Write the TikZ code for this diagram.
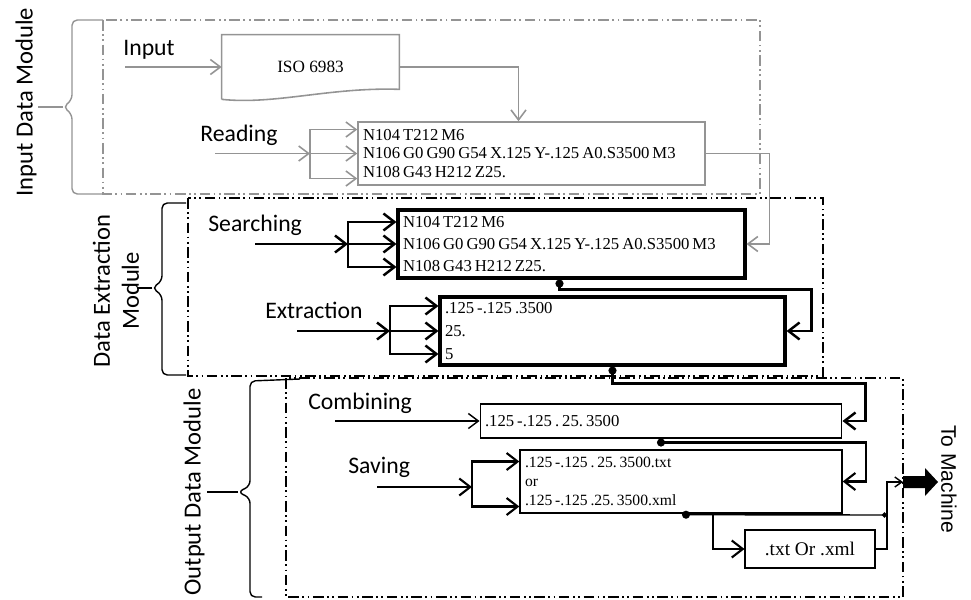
\documentclass[tikz,border=0pt]{standalone}
\usepackage{fontspec}
\setmainfont{Liberation Serif}
\newfontfamily\lblfont{Carlito}
\newfontfamily\arialfont{Liberation Sans}
\usepackage{tikz}
\usetikzlibrary{arrows.meta,calc,positioning}
\definecolor{greyln}{HTML}{949494}
\newcommand{\tightsp}{\spaceskip=0.18em\xspaceskip=0.18em\relax}

\begin{document}
\begin{tikzpicture}[x=0.02cm,y=-0.02cm, every node/.style={inner sep=0pt},
  lbl/.style={font=\lblfont\fontsize{13.5}{16}\selectfont,anchor=west},
  modlbl/.style={font=\lblfont\fontsize{14}{16.5}\selectfont,align=center,rotate=90},
  box/.style={draw=#1,inner xsep=0.1cm,inner ysep=0pt,align=left},
  code/.style={font=\fontsize{9.5}{#1}\selectfont},
  gln/.style={draw=greyln,line width=0.9pt},
  garr/.style={gln,-{Straight Barb[length=2mm,width=3mm]}},
  barr/.style={draw=black,line width=1.4pt,-{Straight Barb[length=2.2mm,width=3.4mm]}},
  oarr/.style={draw=black,line width=0.8pt,-{Straight Barb[length=2mm,width=3mm]}},
  dotarr/.style={{Circle[length=1.6mm]}-{Straight Barb[length=2.2mm,width=3.4mm]}},
  moddash/.style={draw=#1,line width=0.6pt,dash pattern=on 6pt off 2pt on 1pt off 2pt on 1pt off 2pt},
  brace/.style={draw=#1,line width=0.8pt,rounded corners=3pt}]
  \useasboundingbox (0,0) rectangle (971,599);

  % input data module
  \draw[moddash=greyln] (103,20) rectangle (760,194);
  \draw[brace=greyln] (103,20) -- (72,20) -- (72,100) -- (63,107) -- (72,114) -- (72,194) -- (103,194);
  \draw[gln] (63,107) -- (38,107);
  \node[modlbl] (inmod) at (26,102) {Input Data Module};

  \node[lbl] (inlbl) at (123,50) {Input};
  \node[minimum width=3.54cm,minimum height=1.28cm,font=\fontsize{9.8}{11}\selectfont] (iso) at (310.5,67) {ISO 6983};
  \draw[gln] (iso.south west) -- (iso.north west) -- (iso.north east) -- ($(iso.south east)+(0,-10)$)
    .. controls (330,87) and (275,105) .. (iso.south west);
  \coordinate (isoin) at (125,67);
  \draw[garr] (isoin) -- (iso.west);

  \node[lbl] (rdlbl) at (200,135) {Reading};
  \node[box=greyln,line width=0.9pt,text width=6.74cm,minimum height=1.26cm,code=10.4] (read) at (531.5,153.5)
    {\tightsp N104 T212 M6\\N106 G0 G90 G54 X.125 Y-.125 A0.S3500 M3\\N108 G43 H212 Z25.};
  \draw[garr] (iso.east) -| ($(read.north)+(-13,0)$);
  \coordinate (rdin) at (215,153.5);
  \coordinate (rdsplit) at (310,153.5);
  \draw[garr] (rdin) -- (rdsplit);
  \draw[garr] (rdsplit) -- (read.west);
  \draw[garr] (rdsplit) |- ($(read.west)+(0,-24)$);
  \draw[garr] (rdsplit) |- ($(read.west)+(0,25)$);

  % data extraction module
  \draw[moddash=black] (188,198) rectangle (823,376);
  \draw[brace=black] (186,203) -- (162,203) -- (162,281) -- (152,288) -- (162,295) -- (162,375) -- (186,375);
  \draw[black,line width=0.8pt] (152,288) -- (137,288);
  \node[modlbl] (exmod) at (116,291) {Data Extraction\\Module};

  \node[lbl] (srlbl) at (208,225) {Searching};
  \node[box=black,line width=1.8pt,text width=6.74cm,minimum height=1.36cm,code=12.5] (search) at (571.5,244)
    {\tightsp N104 T212 M6\\N106 G0 G90 G54 X.125 Y-.125 A0.S3500 M3\\N108 G43 H212 Z25.};
  \draw[garr] (read.east) -| ($(search.east)+(23,0)$) -- (search.east);
  \coordinate (srin) at (255,244);
  \coordinate (srsplit) at (348,244);
  \draw[barr] (srin) -- (srsplit);
  \draw[barr] (srsplit) -- (search.west);
  \draw[barr] (srsplit) |- ($(search.west)+(0,-22)$);
  \draw[barr] (srsplit) |- ($(search.west)+(0,23)$);

  \node[lbl] (exlbl) at (265,310) {Extraction};
  \node[box=black,line width=1.8pt,text width=6.7cm,minimum height=1.36cm,code=13.2] (extract) at (612.5,331)
    {\tightsp .125 -.125 .3500\\25.\\5};
  \draw[barr,dotarr] ($(search.south)+(-12,0)$) -- ++(0,10) -| ($(extract.east)+(25,0)$) -- (extract.east);
  \coordinate (exin) at (297,331);
  \coordinate (exsplit) at (390,331);
  \draw[barr] (exin) -- (exsplit);
  \draw[barr] (exsplit) -- (extract.west);
  \draw[barr] (exsplit) |- ($(extract.west)+(0,-25)$);
  \draw[barr] (exsplit) |- ($(extract.west)+(0,23)$);

  % output data module
  \draw[moddash=black] (286,378) rectangle (903,597);
  \draw[brace=black] (300,379) -- (250,381) -- (250,486) -- (238,492) -- (250,498) -- (250,597) -- (262,597);
  \draw[black,line width=0.8pt] (238,492) -- (207,492);
  \node[modlbl] (outmod) at (194,492) {Output Data Module};

  \node[lbl] (cblbl) at (308,403) {Combining};
  \node[box=black,line width=0.6pt,text width=7.04cm,minimum height=0.68cm,code=11] (combine) at (661,421)
    {\tightsp .125 -.125 . 25. 3500};
  \coordinate (cbin) at (335,421);
  \draw[oarr] (cbin) -- (combine.west);
  \draw[barr,dotarr] (extract.south) -- ++(0,17) -| ($(combine.east)+(23,0)$) -- (combine.east);

  \node[lbl] (svlbl) at (348,467) {Saving};
  \node[box=black,line width=0.8pt,text width=6.24cm,minimum height=1.26cm,font=\fontsize{8.9}{10.8}\selectfont] (save) at (681,481.5)
    {\tightsp .125 -.125 . 25. 3500.txt\\or\\.125 -.125 .25. 3500.xml};
  \draw[barr,dotarr,line width=1.2pt] (combine.south) -- ++(0,4) -| ($(save.east)+(23,0)$) -- (save.east);
  \coordinate (svin) at (377,487);
  \coordinate (svsplit) at (472,487);
  \draw[barr,line width=1.2pt] (svin) -- (svsplit);
  \draw[barr,line width=1.2pt] (svsplit) |- ($(save.west)+(0,-20)$);
  \draw[barr,line width=1.2pt] (svsplit) |- ($(save.west)+(0,25)$);

  \node[draw=black,line width=0.6pt,minimum width=2.6cm,minimum height=0.76cm,font=\fontsize{11}{13}\selectfont] (txt) at (810,549) {.txt Or .xml};
  \coordinate (jn) at (887,482);
  \coordinate (mach) at (903,482);
  \draw[black,line width=0.8pt,{Circle[length=1.6mm]}-{Circle[length=1mm]}] ($(save.south)+(1,1)$) -- ($(jn)+(0,33)$);
  \draw[barr,line width=1.2pt] ($(save.south)+(32,1)$) |- (txt.west);
  \draw[black,line width=0.8pt,-{Straight Barb[length=1.4mm,width=2mm]}] (txt.east) -| (jn) -- (mach);
  \fill[black] (mach) ++(0,-6) -- ++(22,0) -- ++(0,-8) -- ++(13,14) -- ++(-13,14) -- ++(0,-8) -- ++(-22,0) -- cycle;
  \node[font=\arialfont\fontsize{12}{14}\selectfont,rotate=-90] (tomach) at (949,479) {To Machine};
\end{tikzpicture}
\end{document}
